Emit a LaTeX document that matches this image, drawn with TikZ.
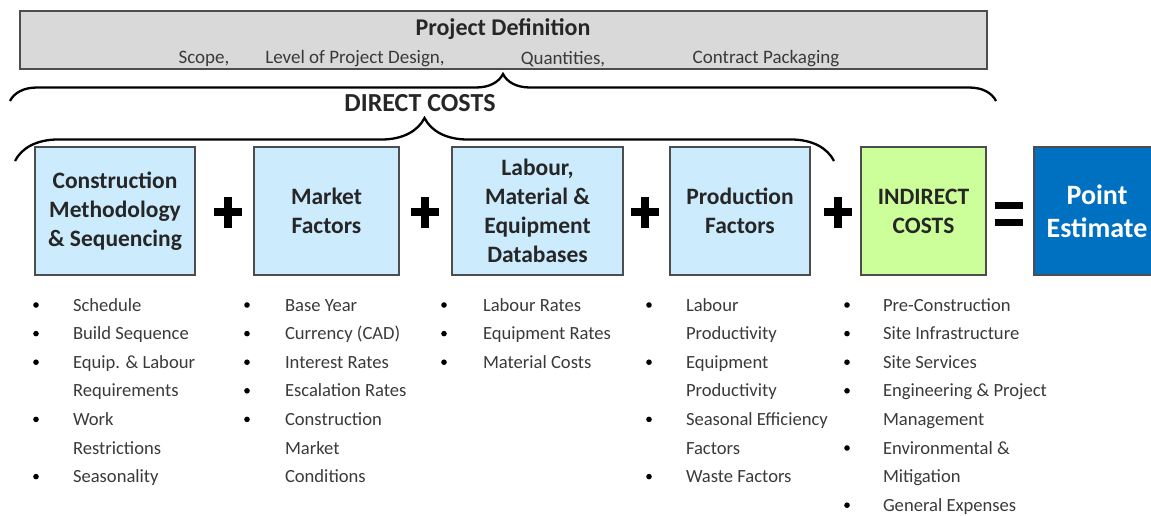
\documentclass[tikz,border=0pt]{standalone}
\usepackage{fontspec}
\setmainfont{Carlito}
\usetikzlibrary{positioning,decorations.pathreplacing}
\definecolor{boxblue}{HTML}{CCEBFD}
\definecolor{boxgreen}{HTML}{CCFF99}
\definecolor{estblue}{HTML}{0070C0}
\definecolor{defgray}{HTML}{D9D9D9}
\definecolor{edgegray}{HTML}{4D4D4D}
\definecolor{txtgray}{HTML}{3A3A3A}

\begin{document}
\begin{tikzpicture}[x=1pt,y=-1pt,
  every node/.style={inner sep=0pt, outer sep=0pt},
  costbox/.style={draw=edgegray, line width=1.3pt, fill=boxblue, minimum height=128pt,
    align=center, text=black!85, font=\bfseries\fontsize{23.5}{29.2}\selectfont},
  item/.style={anchor=base west, text=txtgray, font=\fontsize{18.6}{22}\selectfont},
  defitem/.style={text=txtgray, font=\fontsize{19}{22}\selectfont},
  bigbrace/.style={decorate, decoration={brace, amplitude=#1}, line width=2.3pt},
  opbar/.style={fill=black}
]
    \useasboundingbox (0,0) rectangle (1151,516);
    \clip (0,0) rectangle (1151,516);

    % project definition
    \node[draw=edgegray, line width=1.3pt, fill=defgray, minimum width=967pt, minimum height=58pt] (def) at (503.5,40) {};
    \draw[edgegray, line width=2.2pt] (def.south west) -- (def.south east);
    \node[font=\bfseries\fontsize{24}{28}\selectfont, text=black!85] (deftitle) at (503,29) {Project Definition};
    \node[defitem] (scope) at (204,59) {Scope,};
    \node[defitem] (level) at (355,59) {Level of Project Design,};
    \node[defitem] (quant) at (563,59) {Quantities,};
    \node[defitem] (pack) at (766,59) {Contract Packaging};

    % braces
    \coordinate (b1l) at (10,101);
    \coordinate (b1r) at (996,101);
    \draw[bigbrace=27pt] (b1l) -- (b1r);
    \node[font=\bfseries\fontsize{26}{30}\selectfont, text=black!85] (direct) at (420,103) {DIRECT COSTS};
    \coordinate (b2l) at (15,161);
    \coordinate (b2r) at (834,161);
    \draw[bigbrace=43pt] (b2l) -- (b2r);

    % cost boxes
    \node[costbox, minimum width=160pt] (cm) at (115,211) {Construction\\Methodology\\\& Sequencing};
    \node[costbox, minimum width=145pt] (mf) at (326.5,211) {Market\\Factors};
    \node[costbox, minimum width=171pt] (lm) at (537.5,211) {Labour,\\Material \&\\Equipment\\Databases};
    \node[costbox, minimum width=140pt] (pf) at (740,211) {Production\\Factors};
    \node[costbox, minimum width=125pt, fill=boxgreen] (ic) at (923.5,211) {INDIRECT\\COSTS};
    \node[costbox, minimum width=126pt, fill=estblue, text=white,
      font=\bfseries\fontsize{28}{33}\selectfont] (pe) at (1097,211) {Point\\Estimate};

    % operators
    \foreach \px in {228,425,645,838} {
      \fill[opbar] (\px-14,208) rectangle (\px+14,216);
      \fill[opbar] (\px-4,197) rectangle (\px+4,228);
    }
    \fill[opbar] (995,202) rectangle (1023,209);
    \fill[opbar] (995,219) rectangle (1023,226);

    % bullet lists
    \foreach \t [count=\i from 0] in {Schedule, Build Sequence, Equip. \& Labour, Requirements, Work, Restrictions, Seasonality}
      \node[item] (cm-\i) at (73,311+28.6*\i) {\t};
    \foreach \t [count=\i from 0] in {Base Year, Currency (CAD), Interest Rates, Escalation Rates, Construction, Market, Conditions}
      \node[item] (mf-\i) at (285,311+28.6*\i) {\t};
    \foreach \t [count=\i from 0] in {Labour Rates, Equipment Rates, Material Costs}
      \node[item] (lm-\i) at (483,311+28.6*\i) {\t};
    \foreach \t [count=\i from 0] in {Labour, Productivity, Equipment, Productivity, Seasonal Efficiency, Factors, Waste Factors}
      \node[item] (pf-\i) at (686,311+28.6*\i) {\t};
    \foreach \t [count=\i from 0] in {Pre-Construction, Site Infrastructure, Site Services, Engineering \& Project, Management, Environmental \&, Mitigation, General Expenses}
      \node[item] (ic-\i) at (883,311+28.6*\i) {\t};

    \foreach \bx/\rows in {36/{0,1,2,4,6}, 247/{0,1,2,3,4}, 444/{0,1,2}, 649/{0,2,4,6}, 847/{0,1,2,3,5,7}}
      \foreach \r in \rows
        \fill[black] (\bx,305+28.6*\r) circle (2.8pt);
\end{tikzpicture}
\end{document}
